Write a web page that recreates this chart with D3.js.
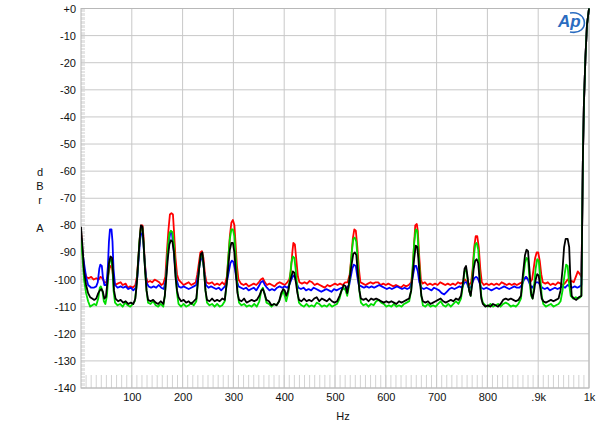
<!DOCTYPE html>
<html><head><meta charset="utf-8">
<script src="https://cdn.jsdelivr.net/npm/d3@7"></script>
<style>body{margin:0;background:#fff}svg{display:block}</style>
</head><body>
<svg id="c" width="600" height="431"></svg>
<script>
const yTicks = [0,-10,-20,-30,-40,-50,-60,-70,-80,-90,-100,-110,-120,-130,-140];
const yTickLabels = ["+0","-10","-20","-30","-40","-50","-60","-70","-80","-90","-100","-110","-120","-130","-140"];
const xTicks = [100,200,300,400,500,600,700,800,900,1000];
const xTickLabels = ["100","200","300","400","500","600","700","800",".9k","1k"];
const seriesNames = ["red","blue","green","black"];
const seriesColors = ["#ff0000","#0000ff","#00dd00","#000000"];

const redData = [[0,-82],[3,-90],[6,-96],[10,-99],[15,-99.5],[20,-99],[25,-100],[30,-99.5],[35,-100],[38,-99],[42,-99.5],[46,-101],[50,-101],[53,-99],[56,-96],[58,-95],[61,-95.5],[64,-100],[67,-102],[72,-101.5],[78,-101],[82,-102],[88,-101.5],[92,-103],[97,-102.5],[102,-103],[107,-102],[110,-99],[113,-92],[116,-84],[118,-80],[121,-80],[123,-84],[125,-92],[128,-99],[131,-101],[136,-100.5],[140,-101],[145,-100],[150,-100.5],[154,-101],[158,-102],[162,-101.5],[166,-99],[169,-90],[172,-82],[175,-76],[178,-75.5],[181,-76],[183,-82],[186,-92],[189,-98],[192,-100],[197,-101],[202,-102],[207,-101.5],[212,-101],[217,-102],[222,-101.5],[226,-101],[229,-98],[232,-94],[235,-90],[238,-89.5],[241,-92],[244,-98],[247,-101],[252,-101.5],[258,-101],[263,-102],[268,-101.5],[273,-102],[278,-101],[283,-102],[287,-99],[290,-92],[293,-84],[296,-79],[299,-78],[302,-80],[304,-86],[307,-95],[310,-100],[315,-101.5],[320,-102],[325,-101.5],[330,-102.5],[335,-102],[340,-101.5],[345,-102],[350,-101],[354,-100],[358,-99.5],[362,-101],[366,-102],[371,-101.5],[376,-102],[381,-102.5],[386,-101.5],[391,-101],[396,-101.5],[401,-102],[406,-101],[410,-100],[413,-97],[416,-90],[418,-86.5],[421,-87],[424,-93],[427,-99],[430,-101],[435,-101.5],[440,-101],[445,-101.5],[450,-100.5],[455,-101],[460,-102],[465,-101.5],[470,-102],[475,-102.5],[480,-103],[485,-102],[490,-102.5],[495,-102],[500,-101.5],[505,-102],[510,-101.5],[515,-102],[520,-101],[525,-101],[529,-98],[532,-92],[535,-85],[538,-81.5],[541,-82],[544,-88],[547,-96],[550,-101],[555,-101.5],[560,-102],[565,-101.5],[570,-101],[575,-101.5],[580,-101],[585,-101],[590,-102],[595,-101.5],[600,-102],[605,-101.5],[610,-102],[615,-102.5],[620,-102],[625,-102.5],[630,-103],[635,-102],[640,-102.5],[645,-102],[650,-101],[653,-96],[656,-86],[658,-80],[661,-79.5],[663,-82],[666,-92],[669,-100],[672,-101.5],[677,-101],[682,-102],[687,-101.5],[692,-102],[697,-101.5],[702,-102],[707,-101],[712,-101.5],[717,-102],[722,-101.5],[727,-102],[732,-101.5],[737,-102],[742,-101],[747,-101.5],[752,-101],[756,-100],[760,-101],[764,-102],[768,-101],[771,-96],[774,-88],[777,-84],[780,-84],[783,-88],[786,-96],[789,-101],[793,-102],[798,-101.5],[803,-102],[808,-101.5],[813,-102],[818,-101.5],[823,-102],[828,-101],[833,-101.5],[838,-102],[843,-101.5],[848,-102],[853,-101.5],[858,-102],[863,-101.5],[868,-101],[872,-100],[876,-99],[880,-100],[884,-101],[888,-100],[891,-96],[894,-92],[897,-90],[900,-90],[903,-93],[906,-98],[909,-101],[914,-101.5],[919,-101],[924,-102],[929,-101.5],[934,-102],[939,-101],[944,-101.5],[949,-102],[954,-101],[958,-100],[962,-101],[966,-100.5],[970,-101],[974,-99],[978,-97],[982,-98],[985,-99],[986.5,-80],[988,-55],[990,-35],[993,-18],[996,-6],[1000,0]];

const blueData = [[0,-84],[3,-90],[6,-94],[10,-99],[14,-102],[20,-103],[25,-103],[30,-102.5],[33,-101],[36,-96],[38,-94.5],[41,-95],[43,-99],[46,-102],[50,-102],[53,-95],[55,-86],[57,-81.5],[60,-81.5],[62,-86],[64,-96],[67,-102],[72,-103],[78,-102.5],[83,-103],[88,-102.5],[93,-103.5],[98,-103],[103,-104],[108,-103],[111,-99],[114,-91],[116,-86],[118,-83],[121,-83],[123,-87],[126,-95],[129,-101],[133,-102.5],[138,-103],[143,-102.5],[148,-103],[153,-102],[158,-103],[163,-103.5],[167,-100],[170,-92],[173,-86],[176,-82.5],[179,-83],[182,-88],[185,-95],[188,-100],[192,-102.5],[197,-103],[202,-102.5],[207,-103],[212,-103.5],[217,-103],[222,-102.5],[227,-102],[231,-98],[234,-94],[237,-92],[240,-92.5],[243,-98],[246,-102],[251,-103],[256,-102.5],[261,-103],[266,-103.5],[271,-103],[276,-104],[281,-103],[286,-102],[290,-98],[294,-94],[297,-93],[300,-93.5],[303,-96],[306,-100],[310,-102.5],[315,-103],[320,-103.5],[325,-103],[330,-104],[335,-103.5],[340,-103],[345,-104],[350,-102.5],[354,-101],[358,-100.5],[362,-102],[366,-103],[371,-104],[376,-103.5],[381,-104],[386,-103],[391,-102.5],[396,-103],[401,-102.5],[406,-103],[410,-102],[414,-100],[418,-98.5],[421,-99],[424,-101],[428,-103],[433,-103.5],[438,-103],[443,-104],[448,-103.5],[453,-104],[458,-103],[463,-103.5],[468,-104],[473,-104.5],[478,-104],[483,-103.5],[488,-104],[493,-104.5],[498,-103.5],[503,-104],[508,-103.5],[513,-103],[518,-103.5],[523,-103],[528,-102],[531,-99],[534,-96],[537,-94.5],[541,-95],[544,-99],[547,-102],[552,-102.5],[557,-103],[562,-102.5],[567,-103],[572,-102.5],[577,-103],[582,-102.5],[587,-102],[592,-102.5],[597,-103],[602,-103.5],[607,-103],[612,-103.5],[617,-103],[622,-102.5],[627,-103],[632,-103.5],[637,-103],[642,-103.5],[647,-103],[651,-101],[654,-98],[657,-95],[660,-95],[663,-97],[666,-101],[670,-103],[675,-103.5],[680,-103],[685,-103.5],[690,-104],[695,-103],[700,-103.5],[705,-104],[710,-105],[715,-105.5],[720,-104.5],[725,-103.5],[730,-103],[735,-103.5],[740,-103],[745,-102.5],[750,-103],[755,-101],[759,-101],[763,-103],[767,-103],[771,-101],[774,-99.5],[778,-99],[781,-99.5],[784,-101],[788,-103],[793,-103.5],[798,-103],[803,-103.5],[808,-104],[813,-103.5],[818,-103],[823,-103.5],[828,-103],[833,-102.5],[838,-103],[843,-103.5],[848,-103],[853,-102.5],[858,-103],[863,-103],[868,-102],[872,-100],[876,-99],[880,-100],[884,-102],[888,-103],[892,-102],[896,-101],[900,-101],[904,-102],[908,-103],[913,-103.5],[918,-103],[923,-104],[928,-103.5],[933,-103],[938,-103.5],[943,-103],[948,-102.5],[953,-103],[958,-102],[962,-102.5],[967,-103],[972,-102.5],[977,-103],[982,-102.5],[985,-102],[986.5,-80],[988,-55],[990,-35],[993,-18],[996,-6],[1000,0]];

const greenData = [[0,-84],[3,-92],[6,-100],[10,-105],[14,-108],[18,-110],[22,-109.5],[26,-109],[30,-109.5],[34,-107],[37,-103],[39,-102.5],[42,-104],[45,-108],[48,-109],[51,-106],[54,-98],[56,-93],[59,-92.5],[62,-96],[64,-104],[67,-108.5],[72,-109.5],[77,-109],[82,-110],[87,-108.5],[92,-109.5],[97,-110],[102,-109],[106,-108],[109,-103],[112,-95],[115,-86],[118,-80.5],[121,-81],[123,-86],[126,-96],[129,-104],[132,-108.5],[137,-109],[142,-108],[147,-109.5],[152,-110],[157,-109],[162,-110],[165,-106],[168,-98],[171,-88],[174,-83],[177,-82],[180,-82.5],[183,-87],[186,-97],[189,-105],[192,-109],[197,-110],[202,-109],[207,-110],[212,-109.5],[217,-108.5],[222,-109.5],[227,-108],[230,-101],[233,-95],[236,-91],[239,-91],[242,-96],[245,-104],[248,-108.5],[253,-109.5],[258,-109],[263,-110],[268,-109],[273,-110],[278,-109.5],[283,-108],[287,-101],[290,-92],[293,-85],[296,-81.5],[299,-81.5],[302,-84],[305,-93],[308,-104],[311,-108.5],[316,-109.5],[321,-109],[326,-110],[331,-109.5],[336,-110],[341,-109],[346,-110],[351,-108],[355,-104],[358,-103],[361,-105],[365,-108.5],[370,-109],[375,-110],[380,-109],[385,-109.5],[390,-108],[394,-106],[398,-104],[401,-106],[404,-108],[408,-105],[411,-100],[414,-94],[417,-91.5],[420,-92],[423,-97],[426,-104],[429,-108.5],[434,-109.5],[439,-110],[444,-109],[449,-110],[454,-109.5],[459,-110],[464,-108.5],[469,-109],[474,-110],[479,-109.5],[484,-110],[489,-109],[494,-110],[499,-109.5],[504,-109],[509,-107],[513,-104],[517,-103],[521,-104],[524,-106],[527,-103],[530,-97],[533,-90],[536,-85],[539,-84.5],[542,-86],[545,-94],[548,-104],[551,-108.5],[556,-109.5],[561,-109],[566,-110],[571,-109],[576,-109.5],[581,-108],[586,-107.5],[591,-108.5],[596,-109],[601,-110],[606,-109.5],[611,-110],[616,-109],[621,-110],[626,-109.5],[631,-110],[636,-109],[641,-108.5],[646,-108],[650,-104],[653,-95],[656,-86],[659,-81.5],[662,-82],[664,-88],[667,-98],[670,-106],[673,-109.5],[678,-110],[683,-109],[688,-110],[693,-109.5],[698,-110],[703,-109],[708,-108],[713,-109.5],[718,-110],[723,-109],[728,-110],[733,-109],[738,-108],[743,-109],[748,-107],[752,-102],[755,-97],[758,-96],[761,-100],[764,-104],[767,-106],[770,-100],[773,-92],[776,-87],[779,-86.5],[782,-89],[785,-99],[788,-106],[791,-108.5],[796,-109.5],[801,-110],[806,-109],[811,-110],[816,-109.5],[821,-109],[826,-110],[831,-109],[836,-108.5],[841,-109],[846,-110],[851,-109.5],[856,-110],[861,-109],[866,-107],[870,-100],[874,-94],[877,-92],[880,-92.5],[883,-100],[886,-106],[889,-107],[892,-102],[895,-96],[898,-92.5],[901,-93],[904,-99],[907,-106],[910,-109],[915,-110],[920,-109.5],[925,-109],[930,-110],[935,-109.5],[940,-109],[944,-108],[948,-104],[952,-98],[955,-94.5],[958,-95],[961,-102],[964,-106],[969,-107],[974,-106.5],[979,-107],[983,-106.5],[985,-106],[986.5,-80],[988,-55],[990,-35],[993,-18],[996,-6],[1000,0]];

const blackData = [[0,-80.5],[3,-88],[6,-97],[10,-102],[14,-105],[18,-106.5],[22,-107],[26,-107.5],[30,-107],[34,-105],[37,-104],[40,-103.5],[43,-104.5],[46,-107],[49,-106.5],[52,-101],[55,-94],[58,-91.5],[61,-92],[63,-97],[65,-104],[68,-107],[73,-108],[78,-107.5],[83,-108.5],[88,-108],[93,-109],[98,-108.5],[103,-109],[107,-107],[110,-101],[113,-92],[116,-84],[118,-80],[121,-80.5],[123,-86],[126,-96],[129,-104],[132,-107.5],[137,-108],[142,-107.5],[147,-108.5],[152,-109],[157,-108],[162,-109],[165,-106],[168,-99],[171,-92],[174,-87],[177,-85.5],[180,-86],[183,-90],[186,-99],[189,-104],[192,-106.5],[197,-108],[202,-107.5],[207,-108.5],[212,-108],[217,-109],[222,-108],[227,-107],[230,-101],[233,-95],[236,-90.5],[239,-90],[242,-96],[245,-104],[248,-107.5],[253,-108],[258,-107],[263,-108],[268,-107.5],[273,-108],[278,-107],[283,-107.5],[287,-101],[290,-95],[293,-89],[296,-86.5],[299,-86.5],[302,-90],[305,-98],[308,-105],[311,-107.5],[316,-108],[321,-107],[326,-108.5],[331,-108],[336,-107.5],[341,-108],[346,-107.5],[351,-106],[355,-104],[358,-103.5],[361,-105],[365,-107.5],[370,-108],[375,-109.5],[380,-109],[385,-109.5],[390,-108],[394,-105],[398,-103.5],[401,-104],[404,-106],[408,-104],[411,-101],[414,-99],[417,-97],[420,-97.5],[423,-101],[426,-105],[429,-107.5],[434,-108],[439,-107],[444,-108],[449,-107.5],[454,-108],[459,-107],[464,-106.5],[469,-108],[474,-107],[479,-107.5],[484,-108],[489,-107],[494,-108],[499,-108.5],[504,-108],[509,-106],[513,-104],[517,-102],[521,-102.5],[524,-105],[527,-102],[530,-98],[533,-94],[536,-90.5],[539,-90],[542,-91],[545,-98],[548,-104],[551,-107],[556,-107.5],[561,-107],[566,-108],[571,-107],[576,-107.5],[581,-107],[586,-107.5],[591,-108],[596,-108.5],[601,-108],[606,-108.5],[611,-108],[616,-108.5],[621,-109],[626,-108],[631,-108.5],[636,-108],[641,-107.5],[646,-107],[650,-104],[653,-98],[656,-92],[659,-87.5],[662,-88],[664,-92],[667,-100],[670,-106],[673,-108],[678,-108.5],[683,-108],[688,-109],[693,-108.5],[698,-108],[703,-107.5],[708,-107],[713,-108],[718,-108.5],[723,-108],[728,-107.5],[733,-108],[738,-107],[743,-107.5],[748,-106],[752,-101],[755,-96],[758,-95],[761,-99],[764,-104],[767,-106],[770,-102],[773,-96],[776,-93],[779,-92.5],[782,-94],[785,-101],[788,-107],[791,-109],[796,-110],[801,-109.5],[806,-110],[811,-109],[816,-109.5],[821,-110],[826,-109],[831,-107.5],[836,-107],[841,-107.5],[846,-107],[851,-107.5],[856,-108],[861,-107.5],[866,-106],[870,-98],[874,-91],[877,-89],[880,-89.5],[883,-97],[886,-105],[889,-107],[892,-104],[895,-100],[898,-98],[901,-98.5],[904,-103],[907,-107],[910,-108],[915,-108.5],[920,-108],[925,-107.5],[930,-108],[935,-107.5],[940,-107],[944,-104],[948,-96],[951,-88],[954,-85],[958,-85],[961,-88],[963,-98],[966,-106],[970,-107],[975,-107.5],[980,-106.5],[985,-106],[986.5,-80],[988,-55],[990,-35],[993,-18],[996,-6],[1000,0]];

const allSeries = [redData, blueData, greenData, blackData];

const svg = d3.select("#c");
const L = 81, R = 589, T = 8.5, B = 388;
const x = d3.scaleLinear().domain([0,1000]).range([L,R]);
const y = d3.scaleLinear().domain([-140,0]).range([B,T]);
const grid = "#c8c8c8";

// grid
const g = svg.append("g");
g.selectAll(".hg").data(yTicks).enter().append("line")
  .attr("x1",L).attr("x2",R).attr("y1",d=>y(d)).attr("y2",d=>y(d))
  .attr("stroke",grid).attr("stroke-width",1);
g.selectAll(".vg").data(xTicks).enter().append("line")
  .attr("y1",T).attr("y2",B).attr("x1",d=>x(d)).attr("x2",d=>x(d))
  .attr("stroke",grid).attr("stroke-width",1);
// minor ticks
const yMinor = d3.range(-140,0.01,0.5);
g.selectAll(".ym").data(yMinor).enter().append("line")
  .attr("x1",L).attr("x2",L+4).attr("y1",d=>Math.round(y(d))+0.5).attr("y2",d=>Math.round(y(d))+0.5)
  .attr("stroke","#d4d4d4").attr("stroke-width",0.6);
const xMinor = d3.range(10,1000,10);
g.selectAll(".xm").data(xMinor).enter().append("line")
  .attr("y1",B-13).attr("y2",B).attr("x1",d=>x(d)).attr("x2",d=>x(d))
  .attr("stroke","#c8c8c8").attr("stroke-width",0.8);
g.append("rect").attr("x",L).attr("y",T).attr("width",R-L).attr("height",B-T)
  .attr("fill","none").attr("stroke","#b8b8b8").attr("stroke-width",1);

// axes text
const ax = d3.axisLeft(y).tickValues(yTicks).tickFormat((d,i)=>yTickLabels[i]).tickSize(0).tickPadding(5);
const ag = svg.append("g").attr("transform",`translate(${L},0)`).call(ax);
ag.select(".domain").remove();
ag.selectAll("text").attr("font-family","Liberation Sans, Arial, sans-serif").attr("font-size",11).attr("fill","#111");
const bx = d3.axisBottom(x).tickValues(xTicks).tickFormat((d,i)=>xTickLabels[i]).tickSize(0).tickPadding(5);
const bg = svg.append("g").attr("transform",`translate(0,${B})`).call(bx);
bg.select(".domain").remove();
bg.selectAll("text").attr("font-family","Liberation Sans, Arial, sans-serif").attr("font-size",11).attr("fill","#111");

const lbl = {"font-family":"Liberation Sans, Arial, sans-serif","font-size":11,"fill":"#111"};
function txt(s,xx,yy,anchor){const t=svg.append("text").attr("x",xx).attr("y",yy).attr("text-anchor",anchor||"middle").text(s);for(const k in lbl)t.attr(k,lbl[k]);return t;}
txt("d",40,176); txt("B",40,190); txt("r",40,204); txt("A",40,232);
txt("Hz",343,420);

// series
const line = d3.line().x(d=>x(d[0])).y(d=>y(d[1]));
const clip = svg.append("clipPath").attr("id","pc").append("rect").attr("x",L).attr("y",T-2).attr("width",R-L+1).attr("height",B-T+2);
allSeries.forEach((s,i)=>{
  svg.append("path").datum(s).attr("d",line).attr("fill","none")
    .attr("stroke",seriesColors[i]).attr("stroke-width",1.8).attr("stroke-linejoin","round")
    .attr("clip-path","url(#pc)");
});

// Ap logo
const logo = svg.append("g").attr("transform","translate(556,10)");
logo.append("text").attr("x",2).attr("y",17).attr("font-family","Liberation Sans, Arial, sans-serif")
  .attr("font-style","italic").attr("font-weight","bold").attr("font-size",17).attr("fill","#2a6cc0").text("Ap");
logo.append("path").attr("d","M14,22 C24,24 30,18 28,10 C26,4 20,2 14,3").attr("fill","none").attr("stroke","#2a6cc0").attr("stroke-width",1.6);
</script>
</body></html>
